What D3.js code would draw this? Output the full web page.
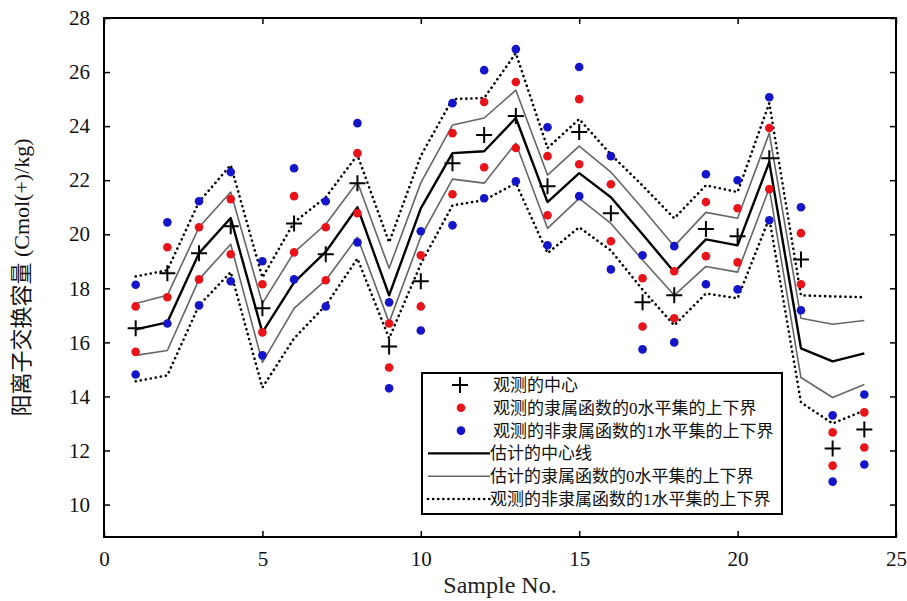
<!DOCTYPE html>
<html>
<head>
<meta charset="utf-8">
<script src="https://cdn.jsdelivr.net/npm/d3@7"></script>
<style>
  body { margin: 0; background: #fff; }
  text { font-family: "Liberation Serif", "Noto Sans CJK SC", serif; }
</style>
</head>
<body>
<script>
// values
let samples = [1, 2, 3, 4, 5, 6, 7, 8, 9, 10, 11, 12, 13, 14, 15, 16, 17, 18, 19, 20, 21, 22, 23, 24];

// observed points
let obsCenter  = [16.52, 18.56, 19.3, 20.3, 17.26, 20.4, 19.26, 21.89, 15.85, 18.26, 22.63, 23.67, 24.37, 21.78, 23.78, 20.78, 17.48, 17.74, 20.19, 19.93, 22.81, 19.07, 12.07, 12.78];
let redUpper   = [17.33, 19.52, 20.26, 21.3, 18.15, 21.41, 20.26, 23.0, 16.7, 19.22, 23.74, 24.89, 25.63, 22.89, 25.0, 21.85, 18.37, 18.63, 21.19, 20.96, 23.93, 20.04, 12.67, 13.41];
let redLower   = [15.65, 17.67, 18.33, 19.26, 16.37, 19.33, 18.3, 20.78, 15.07, 17.33, 21.48, 22.48, 23.19, 20.7, 22.59, 19.74, 16.59, 16.89, 19.19, 18.96, 21.67, 18.15, 11.44, 12.11];
let blueUpper  = [18.13, 20.44, 21.22, 22.3, 19.0, 22.44, 21.22, 24.11, 17.48, 20.11, 24.85, 26.07, 26.85, 23.96, 26.19, 22.89, 19.22, 19.56, 22.22, 22.0, 25.07, 21.0, 13.3, 14.07];
let blueLower  = [14.81, 16.7, 17.37, 18.26, 15.52, 18.33, 17.33, 19.7, 14.3, 16.44, 20.33, 21.33, 21.96, 19.59, 21.41, 18.7, 15.74, 16.0, 18.15, 17.96, 20.52, 17.19, 10.85, 11.48];

// estimated lines
let estCenter  = [16.48, 16.74, 19.3, 20.6, 16.37, 18.22, 19.35, 21.0, 17.74, 20.96, 23.0, 23.07, 24.3, 21.19, 22.26, 21.37, 20.0, 18.6, 19.81, 19.59, 22.67, 15.78, 15.3, 15.59];
let estUpper0  = [17.44, 17.74, 20.26, 21.56, 17.44, 19.33, 20.37, 21.93, 18.74, 21.9, 24.04, 24.3, 25.33, 22.19, 23.26, 22.3, 20.95, 19.56, 20.81, 20.59, 23.74, 16.89, 16.67, 16.81];
let estLower0  = [15.52, 15.7, 18.33, 19.63, 15.26, 17.26, 18.3, 19.89, 16.74, 19.9, 22.04, 21.89, 23.37, 20.22, 21.33, 20.4, 19.05, 17.74, 18.81, 18.6, 21.7, 14.7, 13.96, 14.44];
let dotUpper1  = [18.44, 18.67, 21.2, 22.56, 18.4, 20.44, 21.37, 22.93, 19.7, 22.9, 25.0, 25.04, 26.7, 23.19, 24.26, 22.95, 21.8, 20.59, 21.81, 21.56, 24.85, 17.74, 17.7, 17.67];
let dotLower1  = [14.56, 14.78, 17.37, 18.6, 14.33, 16.15, 17.37, 19.1, 16.15, 18.9, 21.07, 21.26, 21.89, 19.3, 20.26, 19.4, 17.95, 16.63, 17.81, 17.63, 20.59, 13.78, 13.0, 13.48];

let xTicks = [0, 5, 10, 15, 20, 25];
let yTicks = [10, 12, 14, 16, 18, 20, 22, 24, 26, 28];

let legendLabels = ["观测的中心",
    "观测的隶属函数的0水平集的上下界",
    "观测的非隶属函数的1水平集的上下界",
    "估计的中心线",
    "估计的隶属函数的0水平集的上下界",
    "观测的非隶属函数的1水平集的上下界"];

let width = 907,
    height = 601,
    margins = {top: 18, right: 11, bottom: 64, left: 104};

let svg = d3.select("body").append("svg")
    .attr("width", width)
    .attr("height", height);

let xScale = d3.scaleLinear([0, 25], [margins.left, width - margins.right]);
let yScale = d3.scaleLinear([8.8, 28], [height - margins.bottom, margins.top]);

let plotL = xScale.range()[0], plotR = xScale.range()[1];
let plotT = yScale.range()[1], plotB = yScale.range()[0];

// axes with inward ticks on all sides
svg.append("g")
    .attr("transform", translate(0, plotB))
    .call(d3.axisBottom(xScale).tickValues(xTicks).tickSize(-6).tickPadding(14).tickFormat(d3.format("d")))
    .call(g => styleAxis(g));
svg.append("g")
    .attr("transform", translate(0, plotT))
    .call(d3.axisTop(xScale).tickValues(xTicks).tickSize(-6).tickFormat(""))
    .call(g => styleAxis(g));
svg.append("g")
    .attr("transform", translate(plotL, 0))
    .call(d3.axisLeft(yScale).tickValues(yTicks).tickSize(-6).tickPadding(14).tickFormat(d3.format("d")))
    .call(g => styleAxis(g));
svg.append("g")
    .attr("transform", translate(plotR, 0))
    .call(d3.axisRight(yScale).tickValues(yTicks).tickSize(-6).tickFormat(""))
    .call(g => styleAxis(g));

function styleAxis(g) {
    g.attr("font-family", "Liberation Serif").attr("font-size", 21);
    g.select(".domain").remove();
    g.selectAll(".tick line").attr("stroke", "#000").attr("stroke-width", 1.5);
    g.selectAll(".tick text").attr("fill", "#111");
}

// frame
svg.append("rect")
    .attr("x", plotL).attr("y", plotT)
    .attr("width", plotR - plotL).attr("height", plotB - plotT)
    .attr("fill", "none").attr("stroke", "#000").attr("stroke-width", 2);

// lines
let line = d3.line()
    .x((d, i) => xScale(samples[i]))
    .y(d => yScale(d));

let lineStyles = [
    {data: dotUpper1, stroke: "#000", width: 2.6, dash: "0.1,5"},
    {data: dotLower1, stroke: "#000", width: 2.6, dash: "0.1,5"},
    {data: estUpper0, stroke: "#666", width: 1.6, dash: null},
    {data: estLower0, stroke: "#666", width: 1.6, dash: null},
    {data: estCenter, stroke: "#000", width: 2.4, dash: null}
];

lineStyles.forEach(s => {
    svg.append("path")
        .attr("d", line(s.data))
        .attr("fill", "none")
        .attr("stroke", s.stroke)
        .attr("stroke-width", s.width)
        .attr("stroke-linecap", s.dash ? "round" : "butt")
        .attr("stroke-linejoin", "round")
        .attr("stroke-dasharray", s.dash);
});

// points
let pointSets = [
    {data: redUpper, fill: "#e8141a"},
    {data: redLower, fill: "#e8141a"},
    {data: blueUpper, fill: "#1414c8"},
    {data: blueLower, fill: "#1414c8"}
];

pointSets.forEach(p => {
    svg.append("g").selectAll("circle")
        .data(p.data)
        .enter().append("circle")
        .attr("cx", (d, i) => xScale(samples[i]))
        .attr("cy", d => yScale(d))
        .attr("r", 4.3)
        .attr("fill", p.fill);
});

// observed centres as plus marks
svg.append("g").selectAll("path")
    .data(obsCenter)
    .enter().append("path")
    .attr("transform", (d, i) => translate(xScale(samples[i]), yScale(d)))
    .attr("d", "M-8,0H8M0,-8V8")
    .attr("stroke", "#000")
    .attr("stroke-width", 2)
    .attr("fill", "none");

// legend
let legend = svg.append("g").attr("transform", translate(422, 373));
legend.append("rect")
    .attr("width", 360).attr("height", 141)
    .attr("fill", "#fff").attr("stroke", "#000").attr("stroke-width", 2);

let rowH = 22.8;
legendLabels.forEach((label, i) => {
    let y = 12 + i * rowH;
    let row = legend.append("g").attr("transform", translate(0, y));
    if (i === 0) {
        row.append("path").attr("d", "M30,0H46M38,-8V8")
            .attr("stroke", "#000").attr("stroke-width", 2);
    } else if (i === 1 || i === 2) {
        row.append("circle").attr("cx", 39).attr("r", 4.3)
            .attr("fill", i === 1 ? "#e8141a" : "#1414c8");
    } else {
        let s = [lineStyles[4], lineStyles[2], lineStyles[0]][i - 3];
        row.append("line")
            .attr("x1", 6).attr("x2", 68)
            .attr("stroke", s.stroke)
            .attr("stroke-width", s.width)
            .attr("stroke-linecap", s.dash ? "round" : "butt")
            .attr("stroke-dasharray", s.dash);
    }
    row.append("text")
        .attr("x", i < 3 ? 71 : 68)
        .attr("y", 6)
        .attr("font-size", 17)
        .attr("fill", "#111")
        .text(label);
});

// axis titles
svg.append("text")
    .attr("x", (plotL + plotR) / 2)
    .attr("y", 593)
    .attr("text-anchor", "middle")
    .attr("font-size", 24)
    .attr("fill", "#222")
    .text("Sample No.");

svg.append("text")
    .attr("transform", translate(29, (plotT + plotB) / 2) + " rotate(-90)")
    .attr("text-anchor", "middle")
    .attr("font-size", 22)
    .attr("fill", "#111")
    .text("阳离子交换容量 (Cmol(+)/kg)");

function translate(x, y) {
    return `translate(${x}, ${y})`;
}
</script>
</body>
</html>
